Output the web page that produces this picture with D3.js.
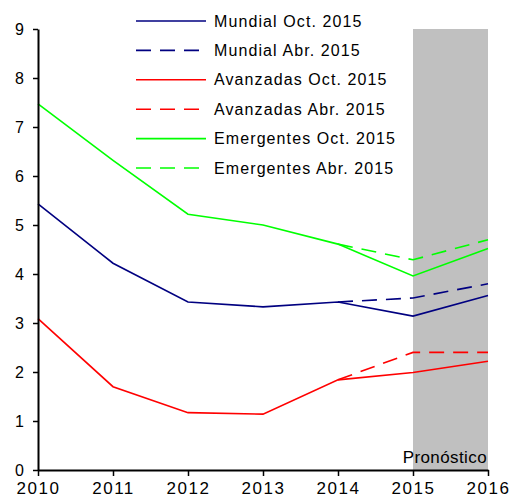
<!DOCTYPE html>
<html>
<head>
<meta charset="utf-8">
<script src="https://cdn.jsdelivr.net/npm/d3@7"></script>
<style>
  body { margin: 0; background: #fff; }
  text { font-family: "Liberation Sans", Arial, sans-serif; fill: #000; }
</style>
</head>
<body>
<div id="chart"></div>
<script>
//Data
var years = [2010, 2011, 2012, 2013, 2014, 2015, 2016];
var yTicks = [0, 1, 2, 3, 4, 5, 6, 7, 8, 9];
var mundialOct = [5.43, 4.22, 3.43, 3.33, 3.43, 3.14, 3.56];
var mundialAbr = [null, null, null, null, 3.43, 3.51, 3.80];
var avanzadasOct = [3.09, 1.70, 1.17, 1.14, 1.84, 1.99, 2.22];
var avanzadasAbr = [null, null, null, null, 1.84, 2.40, 2.40];
var emergentesOct = [7.47, 6.32, 5.22, 5.00, 4.61, 3.96, 4.52];
var emergentesAbr = [null, null, null, null, 4.61, 4.29, 4.70];
var forecastYears = [2015, 2016];

var series = [
  {name: "Mundial Oct. 2015", values: mundialOct, color: "#000080", dash: null},
  {name: "Mundial Abr. 2015", values: mundialAbr, color: "#000080", dash: "15,9"},
  {name: "Avanzadas Oct. 2015", values: avanzadasOct, color: "#ff0000", dash: null},
  {name: "Avanzadas Abr. 2015", values: avanzadasAbr, color: "#ff0000", dash: "15,9"},
  {name: "Emergentes Oct. 2015", values: emergentesOct, color: "#00ff00", dash: null},
  {name: "Emergentes Abr. 2015", values: emergentesAbr, color: "#00ff00", dash: "15,9"}
];

var width = 513, height = 500;
var margin = {top: 29, right: 25, bottom: 30, left: 38};
var w = width - margin.left - margin.right,
    h = height - margin.top - margin.bottom;

var svg = d3.select("#chart").append("svg")
    .attr("width", width)
    .attr("height", height);

var g = svg.append("g")
    .attr("transform", "translate(" + margin.left + "," + margin.top + ")");

var x = d3.scaleLinear().domain([2010, 2016]).range([0, w]);
var y = d3.scaleLinear().domain([0, 9]).range([h, 0]);

//Forecast band
g.append("rect")
    .attr("x", x(forecastYears[0]))
    .attr("y", y(9))
    .attr("width", x(forecastYears[1]) - x(forecastYears[0]))
    .attr("height", y(0) - y(9))
    .attr("fill", "#c0c0c0");

g.append("text")
    .attr("x", x(forecastYears[1]) - 1)
    .attr("y", y(0) - 7)
    .attr("text-anchor", "end")
    .style("font-size", "17px")
    .style("letter-spacing", "0.4px")
    .text("Pronóstico");

//Lines
var lineGen = d3.line()
    .defined(function(d) { return d.v !== null; })
    .x(function(d) { return x(d.year); })
    .y(function(d) { return y(d.v); });

series.forEach(function(s) {
  var pts = years.map(function(yr, i) { return {year: yr, v: s.values[i]}; });
  g.append("path")
      .datum(pts)
      .attr("fill", "none")
      .attr("stroke", s.color)
      .attr("stroke-width", 1.6)
      .attr("stroke-dasharray", s.dash)
      .attr("d", lineGen);
});

//Axes
var yAxis = g.append("g")
    .call(d3.axisLeft(y).tickValues(yTicks).tickSize(5).tickSizeOuter(0).tickPadding(9));
var xAxis = g.append("g")
    .attr("transform", "translate(0," + h + ")")
    .call(d3.axisBottom(x).tickValues(years).tickFormat(d3.format("d")).tickSize(6).tickSizeOuter(0).tickPadding(6));

[yAxis, xAxis].forEach(function(a) {
  a.select(".domain").attr("stroke", "#000").attr("stroke-width", 2);
  a.selectAll(".tick line").attr("stroke", "#000").attr("stroke-width", 1.5);
  a.selectAll(".tick text")
      .style("font-family", "'Liberation Sans', Arial, sans-serif")
      .style("font-size", "16px")
      .attr("fill", "#000");
});
xAxis.selectAll(".tick text")
    .style("font-size", "17px")
    .style("letter-spacing", "1.5px");

//Legend
var legend = svg.append("g").attr("transform", "translate(136,21)");
series.forEach(function(s, i) {
  var row = legend.append("g").attr("transform", "translate(0," + (i * 29.4) + ")");
  row.append("line")
      .attr("x1", 0).attr("x2", 70)
      .attr("stroke", s.color)
      .attr("stroke-width", 1.6)
      .attr("stroke-dasharray", s.dash);
  row.append("text")
      .attr("x", 78)
      .attr("dy", "0.35em")
      .style("font-size", "16px")
      .style("letter-spacing", "1.1px")
      .text(s.name);
});
</script>
</body>
</html>
